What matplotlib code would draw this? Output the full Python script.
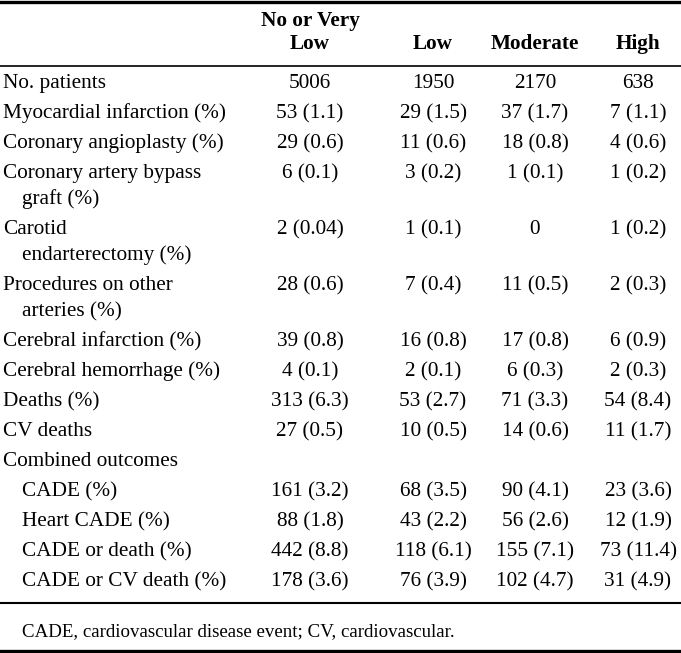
import matplotlib.pyplot as plt

plt.rcParams['font.family'] = ['Liberation Serif', 'DejaVu Serif']

# table content
columns = [['No or Very', 'Low'], ['Low'], ['Moderate'], ['High']]
row_labels = [
    ['No. patients'],
    ['Myocardial infarction (%)'],
    ['Coronary angioplasty (%)'],
    ['Coronary artery bypass', 'graft (%)'],
    ['Carotid', 'endarterectomy (%)'],
    ['Procedures on other', 'arteries (%)'],
    ['Cerebral infarction (%)'],
    ['Cerebral hemorrhage (%)'],
    ['Deaths (%)'],
    ['CV deaths'],
    ['Combined outcomes'],
    ['CADE (%)'],
    ['Heart CADE (%)'],
    ['CADE or death (%)'],
    ['CADE or CV death (%)'],
]
indented = [False] * 11 + [True] * 4
no_or_very_low = ['5006', '53 (1.1)', '29 (0.6)', '6 (0.1)', '2 (0.04)', '28 (0.6)',
                  '39 (0.8)', '4 (0.1)', '313 (6.3)', '27 (0.5)', '',
                  '161 (3.2)', '88 (1.8)', '442 (8.8)', '178 (3.6)']
low = ['1950', '29 (1.5)', '11 (0.6)', '3 (0.2)', '1 (0.1)', '7 (0.4)',
       '16 (0.8)', '2 (0.1)', '53 (2.7)', '10 (0.5)', '',
       '68 (3.5)', '43 (2.2)', '118 (6.1)', '76 (3.9)']
moderate = ['2170', '37 (1.7)', '18 (0.8)', '1 (0.1)', '0', '11 (0.5)',
            '17 (0.8)', '6 (0.3)', '71 (3.3)', '14 (0.6)', '',
            '90 (4.1)', '56 (2.6)', '155 (7.1)', '102 (4.7)']
high = ['638', '7 (1.1)', '4 (0.6)', '1 (0.2)', '1 (0.2)', '2 (0.3)',
        '6 (0.9)', '2 (0.3)', '54 (8.4)', '11 (1.7)', '',
        '23 (3.6)', '12 (1.9)', '73 (11.4)', '31 (4.9)']
footnote = 'CADE, cardiovascular disease event; CV, cardiovascular.'

W, H = 681, 653
fig = plt.figure(figsize=(W / 100, H / 100), dpi=100)
ax = fig.add_axes([0, 0, 1, 1])
ax.set_xlim(0, W)
ax.set_ylim(H, 0)
ax.axis('off')

fs = 15.3
col_x = [310, 433, 535, 638]
line_step = 26
row_step = 30
cap = 7  # half cap height in px, to go from centre to baseline

# header, each line set on its own
head_y = [19, 42]
for x, c in zip(col_x, columns):
    for k, part in enumerate(c):
        ax.text(x, head_y[k + 2 - len(c)] + cap, part, ha='center', va='baseline',
                fontsize=fs, fontweight='bold')

# rows
y = 81
data_cols = [no_or_very_low, low, moderate, high]
for i, lab in enumerate(row_labels):
    x0 = 22 if indented[i] else 3
    for k, part in enumerate(lab):
        ax.text(x0 if k == 0 else 22, y + k * line_step + cap, part,
                ha='left', va='baseline', fontsize=fs)
    for x, col in zip(col_x, data_cols):
        ax.text(x, y + cap, col[i], ha='center', va='baseline', fontsize=fs)
    y += row_step + (len(lab) - 1) * line_step

ax.text(22, 630 + 6, footnote, ha='left', va='baseline', fontsize=13.6)

# rules
ax.axhline(1.5, color='black', lw=2.4)
ax.axhline(66, color='black', lw=1.2)
ax.axhline(603, color='black', lw=1.5)
ax.axhline(650.5, color='black', lw=2.4)

fig.savefig('out.png', dpi=100)
